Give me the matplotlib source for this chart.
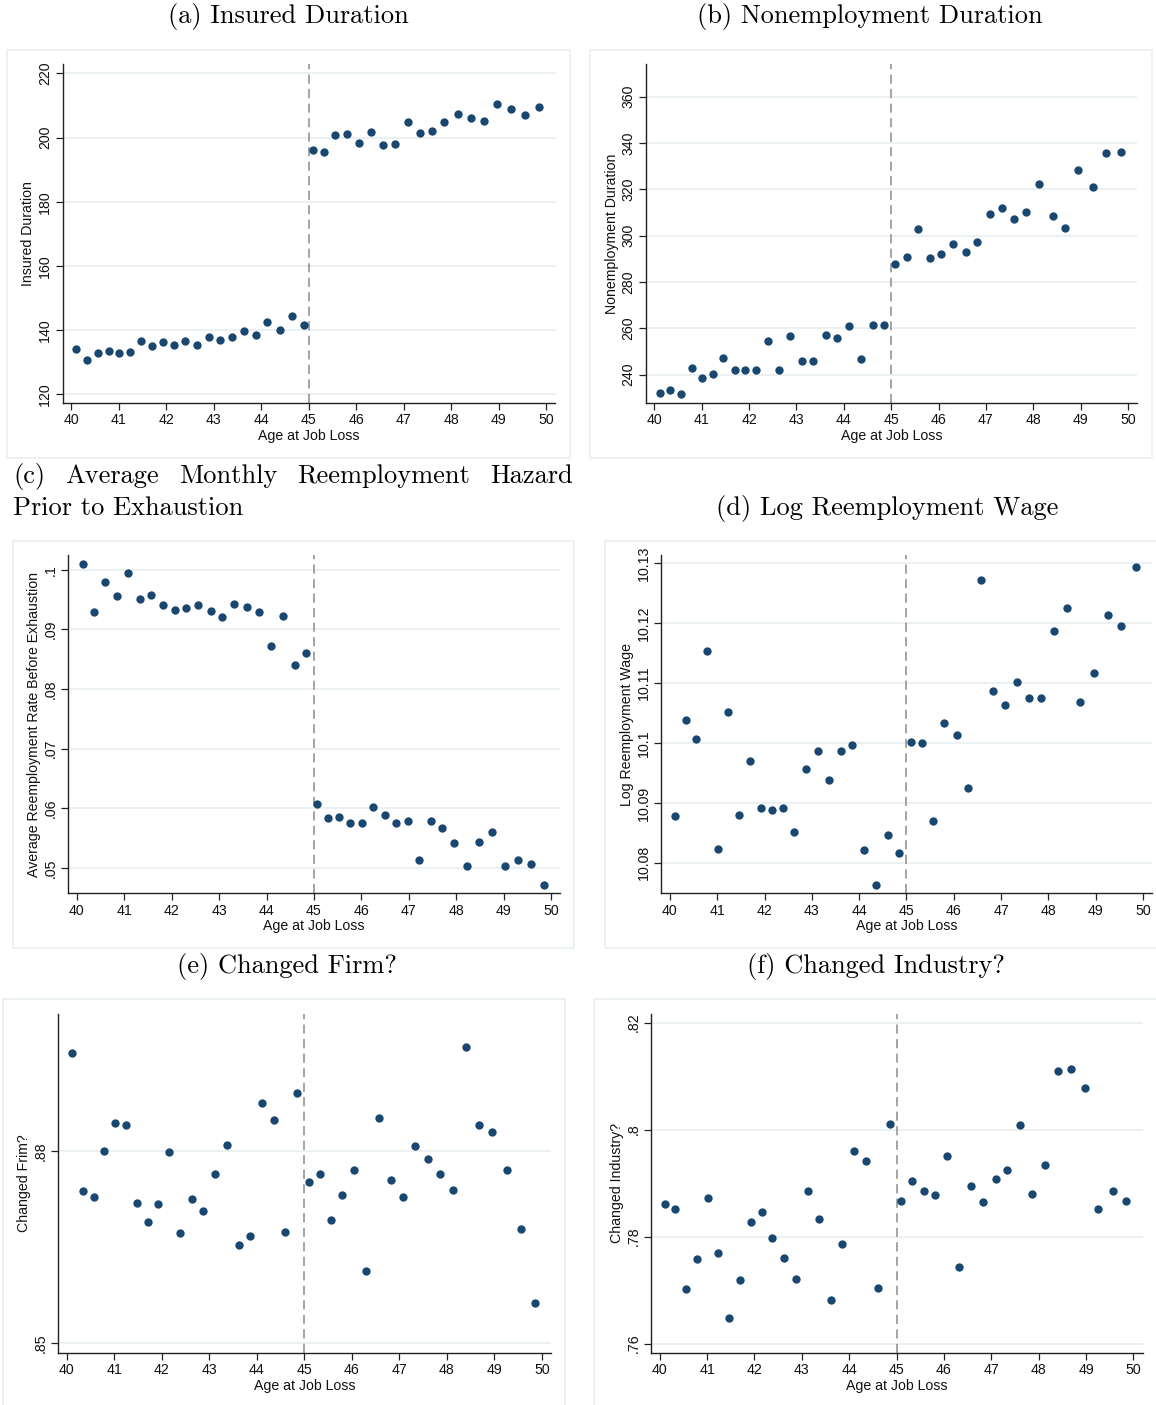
import matplotlib
matplotlib.use("Agg")
import matplotlib.pyplot as plt
from matplotlib.patches import Rectangle

# ---------------- data ----------------
age_a = [40.11, 40.34, 40.57, 40.79, 41.01, 41.24, 41.46, 41.70, 41.94, 42.17, 42.40,
         42.65, 42.89, 43.14, 43.39, 43.64, 43.88, 44.13, 44.39, 44.65, 44.90,
         45.09, 45.33, 45.56, 45.80, 46.05, 46.31, 46.57, 46.82, 47.08, 47.34,
         47.59, 47.84, 48.13, 48.41, 48.68, 48.96, 49.26, 49.55, 49.84]
insured_dur = [134.2, 130.7, 132.8, 133.6, 133.0, 133.2, 136.5, 135.2, 136.3, 135.5, 136.6,
               135.3, 138.0, 136.9, 138.0, 139.8, 138.5, 142.4, 140.1, 144.3, 141.6,
               196.0, 195.6, 200.8, 201.0, 198.3, 201.8, 197.8, 198.0, 204.8, 201.5,
               202.1, 204.7, 207.3, 206.1, 205.2, 210.5, 209.0, 206.9, 209.4]

age_b = [40.12, 40.34, 40.57, 40.79, 41.01, 41.24, 41.46, 41.70, 41.92, 42.15, 42.39,
         42.63, 42.87, 43.11, 43.36, 43.62, 43.86, 44.11, 44.36, 44.61, 44.85,
         45.09, 45.33, 45.57, 45.81, 46.06, 46.31, 46.57, 46.82, 47.08, 47.34,
         47.59, 47.85, 48.12, 48.41, 48.68, 48.95, 49.26, 49.54, 49.85]
nonemp_dur = [231.9, 233.2, 231.6, 243.0, 238.8, 240.1, 247.1, 242.0, 242.0, 242.0, 254.5,
              242.0, 256.7, 245.8, 245.8, 257.1, 255.8, 261.0, 246.9, 261.3, 261.6,
              288.0, 290.9, 303.0, 290.5, 292.2, 296.3, 293.1, 297.3, 309.4, 311.8,
              307.4, 310.2, 322.5, 308.7, 303.5, 328.3, 321.2, 335.5, 336.1]

age_c = [40.12, 40.36, 40.60, 40.84, 41.08, 41.33, 41.57, 41.82, 42.06, 42.31,
         42.56, 42.82, 43.07, 43.32, 43.59, 43.84, 44.09, 44.34, 44.59, 44.84,
         45.07, 45.30, 45.53, 45.76, 46.01, 46.24, 46.49, 46.74, 46.98, 47.22,
         47.46, 47.71, 47.96, 48.22, 48.49, 48.75, 49.02, 49.30, 49.57, 49.86]
reemp_hazard = [0.1010, 0.0929, 0.0979, 0.0956, 0.0994, 0.0951, 0.0957, 0.0940, 0.0932, 0.0936,
                0.0940, 0.0930, 0.0921, 0.0942, 0.0938, 0.0929, 0.0872, 0.0923, 0.0840, 0.0860,
                0.0607, 0.0584, 0.0586, 0.0575, 0.0575, 0.0602, 0.0588, 0.0575, 0.0579, 0.0514,
                0.0578, 0.0567, 0.0541, 0.0503, 0.0544, 0.0560, 0.0503, 0.0513, 0.0507, 0.0472]

age_d = [40.11, 40.34, 40.56, 40.78, 41.01, 41.23, 41.46, 41.70, 41.92, 42.16, 42.39,
         42.62, 42.87, 43.12, 43.36, 43.61, 43.85, 44.11, 44.36, 44.60, 44.85,
         45.10, 45.33, 45.57, 45.80, 46.06, 46.31, 46.57, 46.82, 47.08, 47.33,
         47.59, 47.84, 48.12, 48.40, 48.67, 48.96, 49.25, 49.54, 49.85]
log_wage = [10.0878, 10.1039, 10.1007, 10.1153, 10.0823, 10.1051, 10.0879, 10.0970, 10.0892, 10.0888, 10.0891,
            10.0852, 10.0957, 10.0986, 10.0938, 10.0987, 10.0997, 10.0821, 10.0763, 10.0846, 10.0817,
            10.1001, 10.1000, 10.0870, 10.1033, 10.1013, 10.0925, 10.1272, 10.1087, 10.1064, 10.1102,
            10.1075, 10.1075, 10.1187, 10.1226, 10.1068, 10.1117, 10.1213, 10.1196, 10.1294]

age_e = [40.12, 40.34, 40.57, 40.79, 41.01, 41.24, 41.47, 41.70, 41.93, 42.16, 42.39,
         42.63, 42.87, 43.12, 43.37, 43.62, 43.85, 44.10, 44.36, 44.60, 44.84,
         45.09, 45.33, 45.57, 45.80, 46.05, 46.31, 46.58, 46.83, 47.08, 47.34,
         47.60, 47.85, 48.13, 48.41, 48.68, 48.96, 49.26, 49.56, 49.85]
changed_firm = [0.8954, 0.8738, 0.8728, 0.8801, 0.8845, 0.8841, 0.8720, 0.8689, 0.8717, 0.8799, 0.8673,
                0.8725, 0.8707, 0.8764, 0.8810, 0.8654, 0.8668, 0.8875, 0.8849, 0.8674, 0.8891,
                0.8752, 0.8764, 0.8693, 0.8731, 0.8771, 0.8613, 0.8852, 0.8755, 0.8728, 0.8808,
                0.8788, 0.8764, 0.8739, 0.8964, 0.8841, 0.8831, 0.8771, 0.8678, 0.8562]

age_f = [40.11, 40.33, 40.56, 40.78, 41.01, 41.23, 41.46, 41.69, 41.92, 42.15, 42.38,
         42.62, 42.87, 43.12, 43.36, 43.61, 43.85, 44.10, 44.36, 44.60, 44.85,
         45.10, 45.33, 45.57, 45.81, 46.06, 46.32, 46.58, 46.83, 47.09, 47.34,
         47.60, 47.86, 48.13, 48.41, 48.69, 48.97, 49.26, 49.56, 49.85]
changed_ind = [0.7861, 0.7852, 0.7702, 0.7759, 0.7872, 0.7769, 0.7648, 0.7718, 0.7827, 0.7846, 0.7798,
               0.7760, 0.7720, 0.7885, 0.7833, 0.7681, 0.7787, 0.7960, 0.7942, 0.7704, 0.8010,
               0.7867, 0.7904, 0.7885, 0.7877, 0.7951, 0.7743, 0.7895, 0.7864, 0.7907, 0.7925,
               0.8009, 0.7879, 0.7933, 0.8109, 0.8114, 0.8078, 0.7852, 0.7886, 0.7866]

x_ticks = [40, 41, 42, 43, 44, 45, 46, 47, 48, 49, 50]
cutoff = 45

yt_a = [120, 140, 160, 180, 200, 220]
yl_a = ["120", "140", "160", "180", "200", "220"]
yt_b = [240, 260, 280, 300, 320, 340, 360]
yl_b = ["240", "260", "280", "300", "320", "340", "360"]
yt_c = [0.05, 0.06, 0.07, 0.08, 0.09, 0.10]
yl_c = [".05", ".06", ".07", ".08", ".09", ".1"]
yt_d = [10.08, 10.09, 10.10, 10.11, 10.12, 10.13]
yl_d = ["10.08", "10.09", "10.1", "10.11", "10.12", "10.13"]
yt_e = [0.85, 0.88]
yl_e = [".85", ".88"]
yt_f = [0.76, 0.78, 0.80, 0.82]
yl_f = [".76", ".78", ".8", ".82"]

# ---------------- figure ----------------
W, H = 1156, 1405
fig = plt.figure(figsize=(W / 100, H / 100), dpi=100)
fig.patch.set_facecolor("white")

SANS = "Liberation Sans"
SERIF = "cmr10"
NAVY = "#1a476f"
GRID = "#e8eff1"
FRAME = "#e9f0f2"
FS = 10.2


def px_axes(x0, y0, x1, y1):
    return fig.add_axes([x0 / W, 1 - y1 / H, (x1 - x0) / W, (y1 - y0) / H])


def frame(x0, y0, x1, y1):
    fig.patches.append(Rectangle((x0 / W, 1 - y1 / H), (x1 - x0) / W, (y1 - y0) / H,
                                 transform=fig.transFigure, fill=False,
                                 edgecolor=FRAME, linewidth=1.2, zorder=0))


def panel(box, fbox, x, y, yticks, ylabels, ylim, ylabel):
    frame(*fbox)
    ax = px_axes(*box)
    ax.scatter(x, y, s=36, color=NAVY, zorder=3, linewidths=0)
    ax.axvline(cutoff, color="#8c8c8c", linestyle=(0, (6, 3.5)), linewidth=1.1, zorder=2)
    ax.set_xlim(39.82, 50.19)
    ax.set_ylim(*ylim)
    ax.set_xticks(x_ticks)
    ax.set_xticklabels([str(t) for t in x_ticks], fontfamily=SANS, fontsize=FS)
    ax.set_yticks(yticks)
    ax.set_yticklabels(ylabels, fontfamily=SANS, fontsize=FS, rotation=90, va="center")
    for s in ("top", "right"):
        ax.spines[s].set_visible(False)
    for s in ("left", "bottom"):
        ax.spines[s].set_color("#222222")
        ax.spines[s].set_linewidth(1.0)
    ax.tick_params(axis="both", length=5, width=0.9, color="#222222", pad=2.5, labelcolor="#111111")
    ax.yaxis.grid(True, color=GRID, linewidth=1.2, zorder=0)
    ax.set_axisbelow(True)
    ax.set_xlabel("Age at Job Loss", fontfamily=SANS, fontsize=FS, labelpad=1, color="#111111")
    ax.set_ylabel(ylabel, fontfamily=SANS, fontsize=FS, labelpad=2, color="#111111")
    return ax


panel((62.6, 64, 555.5, 403), (7, 50, 570, 458), age_a, insured_dur, yt_a, yl_a,
      (117.3, 222.9), "Insured Duration")
panel((645.8, 64, 1137, 403), (590, 50, 1152, 458), age_b, nonemp_dur, yt_b, yl_b,
      (227.8, 374.1), "Nonemployment Duration")
panel((68.4, 555, 560, 893.3), (13, 541, 574, 948), age_c, reemp_hazard, yt_c, yl_c,
      (0.04575, 0.10246), "Average Reemployment Rate Before Exhaustion")
panel((661.4, 555, 1152, 893.3), (605, 541, 1160, 948), age_d, log_wage, yt_d, yl_d,
      (10.0749, 10.1314), "Log Reemployment Wage")
panel((58.2, 1014, 550.8, 1352.7), (3, 999, 565, 1410), age_e, changed_firm, yt_e, yl_e,
      (0.8485, 0.9015), "Changed Frim?")
panel((651.2, 1014, 1142.5, 1352.7), (594, 999, 1160, 1410), age_f, changed_ind, yt_f, yl_f,
      (0.7583, 0.8216), "Changed Industry?")

# ---------------- titles ----------------
TS = 19


def title(txt, xc, yc, ha="center"):
    return fig.text(xc / W, 1 - yc / H, txt, fontfamily=SERIF, fontsize=TS, ha=ha, va="center")


title("(a) Insured Duration", 288, 17)
title("(b) Nonemployment Duration", 870, 17)
title("(d) Log Reemployment Wage", 887, 508)
title("(e) Changed Firm?", 287, 966)
title("(f) Changed Industry?", 876, 966)
title("Prior to Exhaustion", 13, 508, ha="left")

# justified first line of (c)
words = ["(c)", "Average", "Monthly", "Reemployment", "Hazard"]
left, right = 13, 573
renderer = fig.canvas.get_renderer()
objs = [fig.text(0, 1 - 476 / H, w, fontfamily=SERIF, fontsize=TS, ha="left", va="center") for w in words]
widths = [o.get_window_extent(renderer).width for o in objs]
gap = (right - left - sum(widths)) / (len(words) - 1)
xpos = left
for o, w in zip(objs, widths):
    o.set_x(xpos / W)
    xpos += w + gap

fig.savefig("out.png", dpi=100, facecolor="white")
